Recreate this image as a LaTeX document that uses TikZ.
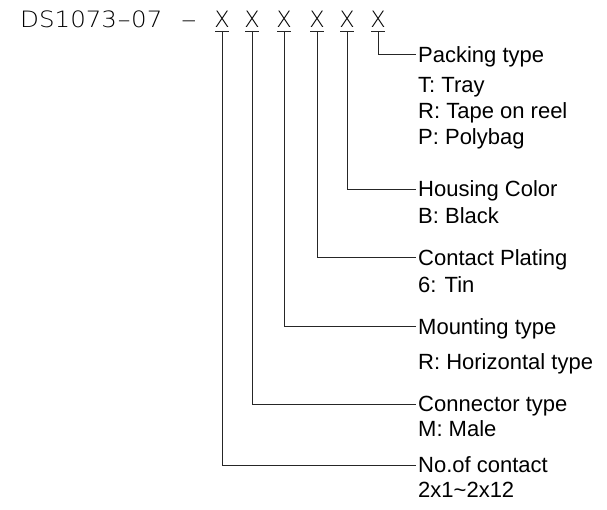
\documentclass[tikz,border=0pt]{standalone}
\usepackage{fontspec}
\setmainfont{Liberation Sans}
\newfontfamily\cadfont{DejaVu Sans ExtraLight}
\begin{document}
\begin{tikzpicture}[x=1pt,y=-1pt,
  lbl/.style={anchor=base west, inner sep=0pt, font=\fontsize{22}{26}\selectfont, text=black},
  cad/.style={anchor=base, inner sep=0pt, font=\cadfont\fontsize{22.5}{26}\selectfont, text=black},
  lead/.style={draw=black!85, line width=0.9pt},
  ubar/.style={draw=black!85, line width=0.9pt}]
\useasboundingbox (0,0) rectangle (607,510);
% header text
\node[cad, anchor=base west] (pn) at (20,27.8) {\scalebox{1.09}[1]{DS1073\scalebox{1.6}[1]{-}07}};
\node[cad] (dash) at (189,27.8) {\scalebox{2.1}[1]{-}};
\foreach \i/\x in {1/222,2/252,3/284,4/317,5/347,6/378}{
  \node[cad] (x\i) at (\x,27.8) {X};
  \coordinate (c\i) at (\x,31.3);
  \coordinate (bl\i) at (\x-7,31.3);
  \coordinate (br\i) at (\x+7,31.3);
  \draw[ubar] (bl\i) -- (br\i);
}
% leader end points
\coordinate (e6) at (416,54.5);
\coordinate (e5) at (416,189);
\coordinate (e4) at (416,257.5);
\coordinate (e3) at (416,326.7);
\coordinate (e2) at (416,404);
\coordinate (e1) at (416,465);
\foreach \i in {1,...,6}{\draw[lead] (c\i) |- (e\i);}
% labels (baseline = cap centre + 7.9)
\node[lbl] (pk)  at (418,62.4)  {Packing type};
\node[lbl] (pk1) at (418,92.1)  {T: Tray};
\node[lbl] (pk2) at (418,118.9) {R: Tape on reel};
\node[lbl] (pk3) at (418,144.7) {P: Polybag};
\node[lbl] (hc)  at (418,196.9) {Housing Color};
\node[lbl] (hc1) at (418,223.4) {B: Black};
\node[lbl] (cp)  at (418,265.4) {Contact Plating};
\node[lbl] (cp1) at (418,292.4) {6: Tin};
\node[lbl] (mt)  at (418,334.6) {Mounting type};
\node[lbl] (mt1) at (418,369.9) {R: Horizontal type};
\node[lbl] (ct)  at (418,411.9) {Connector type};
\node[lbl] (ct1) at (418,436.9) {M: Male};
\node[lbl] (nc)  at (418,472.9) {No.of contact};
\node[lbl] (nc1) at (418,497.9) {2x1\char`\~2x12};
\end{tikzpicture}
\end{document}
